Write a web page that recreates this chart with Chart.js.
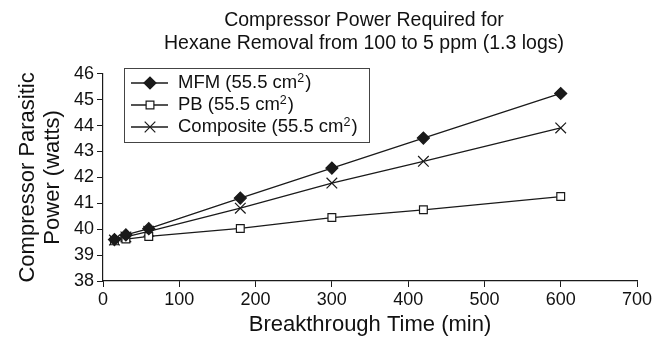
<!DOCTYPE html>
<html>
<head>
<meta charset="utf-8">
<script src="https://cdn.jsdelivr.net/npm/chart.js@4.4.1/dist/chart.umd.min.js"></script>
<style>
  html, body { margin: 0; padding: 0; background: #fff; }
  #wrap { width: 667px; height: 338px; }
</style>
</head>
<body>
<div id="wrap"><canvas id="chart" width="667" height="338"></canvas></div>
<script>
const times = [15, 30, 60, 180, 300, 420, 600];
const mfmPower = [39.6, 39.78, 40.02, 41.2, 42.36, 43.52, 45.24];
const pbPower = [39.55, 39.62, 39.72, 40.03, 40.45, 40.75, 41.26];
const compositePower = [39.58, 39.7, 39.92, 40.81, 41.78, 42.62, 43.91];
const seriesLabels = ["MFM (55.5 cm²)", "PB (55.5 cm²)", "Composite (55.5 cm²)"];
const titleLines = ["Compressor Power Required for", "Hexane Removal from 100 to 5 ppm (1.3 logs)"];
const xTitle = "Breakthrough Time (min)";
const yTitle = ["Compressor Parasitic", "Power (watts)"];

const FONT = "'Liberation Sans', Arial, sans-serif";
const INK = "#1a1a1a";

function toPoints(values) {
  return times.map((t, i) => ({ x: t, y: values[i] }));
}

// title sits a little left of the plot centre in the original
const nudgeTitle = {
  id: "nudgeTitle",
  afterLayout(chart) {
    if (chart.titleBlock) chart.titleBlock.left -= 12;
  }
};

// legend drawn inside the plot, with a real superscript 2
const boxLegend = {
  id: "boxLegend",
  afterDraw(chart) {
    const ctx = chart.ctx;
    const left = 124, top = 68, width = 245, height = 74;
    ctx.save();
    ctx.fillStyle = "#fff";
    ctx.fillRect(left, top, width, height);
    ctx.strokeStyle = "#444";
    ctx.lineWidth = 1;
    ctx.strokeRect(left + 0.5, top + 0.5, width, height);

    chart.data.datasets.forEach((ds, i) => {
      const y = 83 + i * 22;
      ctx.strokeStyle = INK;
      ctx.lineWidth = 1.3;
      ctx.beginPath();
      ctx.moveTo(131, y);
      ctx.lineTo(168, y);
      ctx.stroke();
      ctx.fillStyle = ds.pointBackgroundColor;
      ctx.strokeStyle = INK;
      ctx.lineWidth = ds.pointBorderWidth;
      Chart.helpers.drawPoint(ctx, {
        pointStyle: ds.pointStyle,
        radius: ds.pointRadius,
        borderWidth: ds.pointBorderWidth
      }, 150, y);

      const parts = ds.label.split("²");
      ctx.fillStyle = "#111";
      ctx.textBaseline = "middle";
      ctx.font = "18.5px " + FONT;
      let x = 178;
      ctx.fillText(parts[0], x, y);
      x += ctx.measureText(parts[0]).width;
      ctx.font = "12.5px " + FONT;
      ctx.fillText("2", x, y - 4);
      x += ctx.measureText("2").width + 1;
      ctx.font = "18.5px " + FONT;
      ctx.fillText(parts[1], x, y);
    });
    ctx.restore();
  }
};

function makeSet(label, values, style, fill, radius) {
  return {
    label: label,
    data: toPoints(values),
    borderColor: INK,
    borderWidth: 1.3,
    pointStyle: style,
    pointRadius: radius,
    pointHoverRadius: radius,
    pointBackgroundColor: fill,
    pointBorderColor: INK,
    pointBorderWidth: 1.2,
    tension: 0,
    fill: false
  };
}

new Chart(document.getElementById("chart"), {
  type: "line",
  data: {
    datasets: [
      makeSet(seriesLabels[0], mfmPower, "rectRot", INK, 6),
      makeSet(seriesLabels[1], pbPower, "rect", "#fff", 5.5),
      makeSet(seriesLabels[2], compositePower, "crossRot", INK, 7.5)
    ]
  },
  options: {
    responsive: false,
    animation: false,
    layout: { padding: { left: 0, right: 30, top: 0, bottom: 0 } },
    plugins: {
      legend: { display: false },
      tooltip: { enabled: false },
      title: {
        display: true,
        fullSize: false,
        text: titleLines,
        color: "#111",
        font: { family: FONT, size: 19.5, weight: "normal", lineHeight: 1.2 },
        padding: { top: 8.5, bottom: 18.5 }
      }
    },
    scales: {
      x: {
        type: "linear",
        min: 0,
        max: 700,
        afterFit(scale) { scale.height = 57; },
        ticks: {
          stepSize: 100,
          color: "#111",
          padding: 2,
          maxRotation: 0,
          font: { family: FONT, size: 18 }
        },
        grid: { drawOnChartArea: false, tickLength: 6, color: INK, tickColor: INK },
        border: { color: INK, width: 1.2 },
        title: {
          display: true,
          text: xTitle,
          color: "#111",
          padding: { top: 0, bottom: 0 },
          font: { family: FONT, size: 22, lineHeight: 1.2 }
        }
      },
      y: {
        min: 38,
        max: 46,
        afterFit(scale) { scale.width = 103; },
        ticks: {
          stepSize: 1,
          color: "#111",
          padding: 3,
          font: { family: FONT, size: 18 }
        },
        grid: { drawOnChartArea: false, tickLength: 6, color: INK, tickColor: INK },
        border: { color: INK, width: 1.2 },
        title: {
          display: true,
          text: yTitle,
          color: "#111",
          padding: { top: 15.5, bottom: 0 },
          font: { family: FONT, size: 22, lineHeight: 1.14 }
        }
      }
    }
  },
  plugins: [nudgeTitle, boxLegend]
});
</script>
</body>
</html>
